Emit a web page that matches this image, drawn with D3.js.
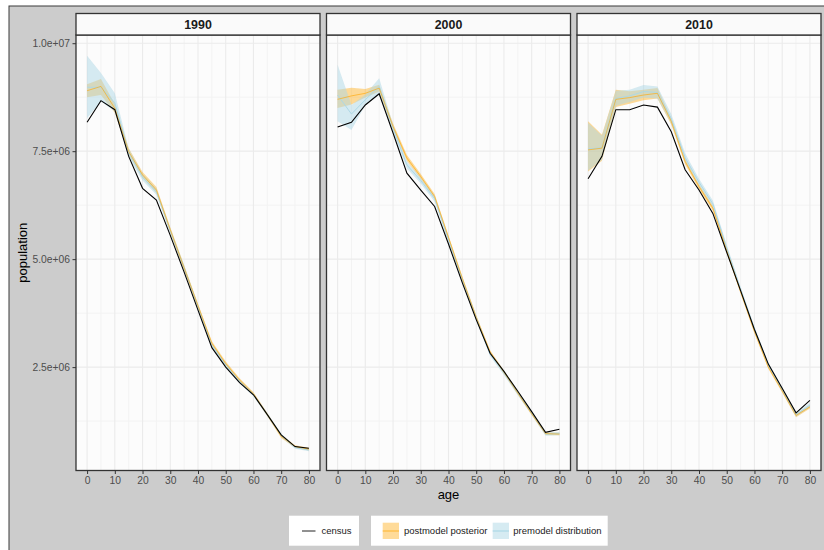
<!DOCTYPE html>
<html>
<head>
<meta charset="utf-8">
<script src="https://cdn.jsdelivr.net/npm/d3@7"></script>
<style>
  body { margin: 0; background: #ffffff; }
  svg { display: block; font-family: "Liberation Sans", Arial, Helvetica, sans-serif; }
</style>
</head>
<body>
<svg id="chart" width="824" height="550"></svg>
<script>
// ---- data (population by 5-year age group) ----
const ages = [0, 5, 10, 15, 20, 25, 30, 35, 40, 45, 50, 55, 60, 65, 70, 75, 80];
const years = ["1990", "2000", "2010"];

const census1990 = [8.17e6, 8.67e6, 8.46e6, 7.38e6, 6.64e6, 6.37e6, 5.55e6, 4.70e6, 3.82e6, 2.95e6, 2.50e6, 2.14e6, 1.86e6, 1.40e6, 0.93e6, 0.66e6, 0.62e6];
const postMean1990 = [8.90e6, 9.00e6, 8.49e6, 7.49e6, 6.95e6, 6.60e6, 5.68e6, 4.80e6, 3.92e6, 3.05e6, 2.58e6, 2.20e6, 1.88e6, 1.40e6, 0.90e6, 0.66e6, 0.60e6];
const postLo1990 = [8.75e6, 8.80e6, 8.39e6, 7.41e6, 6.88e6, 6.53e6, 5.62e6, 4.74e6, 3.87e6, 3.00e6, 2.53e6, 2.16e6, 1.84e6, 1.36e6, 0.86e6, 0.63e6, 0.57e6];
const postHi1990 = [9.05e6, 9.17e6, 8.59e6, 7.57e6, 7.02e6, 6.67e6, 5.74e6, 4.86e6, 3.97e6, 3.10e6, 2.63e6, 2.24e6, 1.92e6, 1.44e6, 0.94e6, 0.69e6, 0.63e6];
const preMean1990 = [8.98e6, 8.98e6, 8.62e6, 7.46e6, 6.90e6, 6.56e6, 5.66e6, 4.80e6, 3.90e6, 3.01e6, 2.55e6, 2.17e6, 1.86e6, 1.40e6, 0.92e6, 0.64e6, 0.58e6];
const preLo1990 = [8.26e6, 8.65e6, 8.42e6, 7.36e6, 6.82e6, 6.49e6, 5.60e6, 4.74e6, 3.85e6, 2.96e6, 2.51e6, 2.13e6, 1.82e6, 1.36e6, 0.88e6, 0.61e6, 0.55e6];
const preHi1990 = [9.71e6, 9.31e6, 8.84e6, 7.56e6, 6.98e6, 6.63e6, 5.72e6, 4.86e6, 3.95e6, 3.06e6, 2.59e6, 2.21e6, 1.90e6, 1.44e6, 0.96e6, 0.67e6, 0.61e6];

const census2000 = [8.06e6, 8.17e6, 8.57e6, 8.83e6, 7.92e6, 6.99e6, 6.60e6, 6.22e6, 5.35e6, 4.45e6, 3.60e6, 2.82e6, 2.40e6, 1.94e6, 1.47e6, 0.99e6, 1.06e6];
const postMean2000 = [8.70e6, 8.78e6, 8.84e6, 8.96e6, 8.07e6, 7.34e6, 6.91e6, 6.45e6, 5.50e6, 4.55e6, 3.65e6, 2.85e6, 2.38e6, 1.90e6, 1.42e6, 0.96e6, 0.95e6];
const postLo2000 = [8.50e6, 8.58e6, 8.74e6, 8.88e6, 8.00e6, 7.27e6, 6.85e6, 6.39e6, 5.45e6, 4.50e6, 3.60e6, 2.81e6, 2.34e6, 1.86e6, 1.39e6, 0.93e6, 0.92e6];
const postHi2000 = [8.92e6, 8.97e6, 8.94e6, 9.04e6, 8.14e6, 7.41e6, 6.97e6, 6.51e6, 5.55e6, 4.60e6, 3.70e6, 2.89e6, 2.42e6, 1.94e6, 1.45e6, 0.99e6, 0.98e6];
const preMean2000 = [8.80e6, 8.36e6, 8.69e6, 9.00e6, 8.03e6, 7.18e6, 6.82e6, 6.40e6, 5.45e6, 4.52e6, 3.64e6, 2.80e6, 2.37e6, 1.90e6, 1.44e6, 0.95e6, 0.96e6];
const preLo2000 = [8.19e6, 7.99e6, 8.57e6, 8.80e6, 7.94e6, 7.10e6, 6.75e6, 6.33e6, 5.39e6, 4.46e6, 3.58e6, 2.75e6, 2.32e6, 1.85e6, 1.39e6, 0.91e6, 0.92e6];
const preHi2000 = [9.50e6, 8.57e6, 8.81e6, 9.19e6, 8.12e6, 7.26e6, 6.89e6, 6.47e6, 5.51e6, 4.58e6, 3.70e6, 2.85e6, 2.42e6, 1.95e6, 1.49e6, 0.99e6, 1.00e6];

const census2010 = [6.86e6, 7.38e6, 8.46e6, 8.46e6, 8.57e6, 8.52e6, 7.95e6, 7.07e6, 6.60e6, 6.06e6, 5.16e6, 4.27e6, 3.37e6, 2.57e6, 2.01e6, 1.44e6, 1.73e6];
const postMean2010 = [7.53e6, 7.57e6, 8.70e6, 8.74e6, 8.80e6, 8.84e6, 8.19e6, 7.26e6, 6.68e6, 6.18e6, 5.20e6, 4.25e6, 3.33e6, 2.50e6, 1.95e6, 1.38e6, 1.58e6];
const postLo2010 = [7.03e6, 7.28e6, 8.52e6, 8.60e6, 8.68e6, 8.72e6, 8.11e6, 7.19e6, 6.62e6, 6.12e6, 5.15e6, 4.20e6, 3.28e6, 2.46e6, 1.91e6, 1.34e6, 1.54e6];
const postHi2010 = [8.19e6, 7.88e6, 8.92e6, 8.89e6, 8.92e6, 8.96e6, 8.27e6, 7.33e6, 6.74e6, 6.24e6, 5.25e6, 4.30e6, 3.38e6, 2.54e6, 1.99e6, 1.42e6, 1.62e6];
const preMean2010 = [7.55e6, 7.58e6, 8.72e6, 8.78e6, 8.88e6, 8.86e6, 8.25e6, 7.35e6, 6.78e6, 6.28e6, 5.26e6, 4.30e6, 3.38e6, 2.55e6, 1.98e6, 1.40e6, 1.62e6];
const preLo2010 = [7.05e6, 7.30e6, 8.55e6, 8.64e6, 8.74e6, 8.72e6, 8.14e6, 7.26e6, 6.70e6, 6.20e6, 5.19e6, 4.24e6, 3.32e6, 2.50e6, 1.93e6, 1.35e6, 1.57e6];
const preHi2010 = [8.16e6, 7.86e6, 8.90e6, 8.92e6, 9.03e6, 9.00e6, 8.36e6, 7.45e6, 6.86e6, 6.36e6, 5.33e6, 4.36e6, 3.44e6, 2.60e6, 2.03e6, 1.45e6, 1.67e6];

const xTicks = [0, 10, 20, 30, 40, 50, 60, 70, 80];
const xMinor = [5, 15, 25, 35, 45, 55, 65, 75];
const yTicks = [2.5e6, 5.0e6, 7.5e6, 1.0e7];
const yMinor = [1.25e6, 3.75e6, 6.25e6, 8.75e6];
const legendLabels = ["census", "postmodel posterior", "premodel distribution"];

const panelsData = [
  { year: "1990", census: census1990, postMean: postMean1990, postLo: postLo1990, postHi: postHi1990, preMean: preMean1990, preLo: preLo1990, preHi: preHi1990 },
  { year: "2000", census: census2000, postMean: postMean2000, postLo: postLo2000, postHi: postHi2000, preMean: preMean2000, preLo: preLo2000, preHi: preHi2000 },
  { year: "2010", census: census2010, postMean: postMean2010, postLo: postLo2010, postHi: postHi2010, preMean: preMean2010, preLo: preLo2010, preHi: preHi2010 }
];

// ---- layout ----
const svg = d3.select("#chart");
const W = 824, H = 550;
const panelLefts = [76, 326.5, 577];
const panelW = 244;
const panelTop = 35, panelBottom = 470.5, stripTop = 13.5;

const colors = {
  outer: "#cccccc",
  panelBg: "#fcfcfc",
  gridMajor: "#ebebeb",
  gridMinor: "#f3f3f3",
  border: "#333333",
  tickText: "#4d4d4d",
  post: "#ffa500",
  pre: "#add8e6"
};

// outer plot background with frame
svg.append("rect").attr("x", 9).attr("y", 6).attr("width", W - 8).attr("height", H - 5)
  .attr("fill", colors.outer).attr("stroke", "#3a3a3a").attr("stroke-width", 1);

const y = d3.scaleLinear().domain([0.106e6, 10.19e6]).range([panelBottom, panelTop]);

function sci(v) {
  const parts = v.toExponential(1).split("e");
  const e = parts[1];
  return parts[0] + "e" + e[0] + e.slice(1).padStart(2, "0");
}

const area = (xs, lo, hi) => d3.area()
  .x((d, i) => xs(ages[i]))
  .y0((d, i) => y(lo[i]))
  .y1((d, i) => y(hi[i]));
const line = (xs, vals) => d3.line()
  .x((d, i) => xs(ages[i]))
  .y((d, i) => y(vals[i]));

panelsData.forEach((p, k) => {
  const left = panelLefts[k];
  const x = d3.scaleLinear().domain([-4, 84]).range([left, left + panelW]);
  const g = svg.append("g");

  // panel background
  g.append("rect").attr("x", left).attr("y", panelTop).attr("width", panelW)
    .attr("height", panelBottom - panelTop).attr("fill", colors.panelBg);

  // grid
  g.selectAll(".gxm").data(xMinor).join("line")
    .attr("x1", d => x(d)).attr("x2", d => x(d)).attr("y1", panelTop).attr("y2", panelBottom)
    .attr("stroke", colors.gridMinor).attr("stroke-width", 1);
  g.selectAll(".gym").data(yMinor).join("line")
    .attr("y1", d => y(d)).attr("y2", d => y(d)).attr("x1", left).attr("x2", left + panelW)
    .attr("stroke", colors.gridMinor).attr("stroke-width", 1);
  g.selectAll(".gx").data(xTicks).join("line")
    .attr("x1", d => x(d)).attr("x2", d => x(d)).attr("y1", panelTop).attr("y2", panelBottom)
    .attr("stroke", colors.gridMajor).attr("stroke-width", 1.1);
  g.selectAll(".gy").data(yTicks).join("line")
    .attr("y1", d => y(d)).attr("y2", d => y(d)).attr("x1", left).attr("x2", left + panelW)
    .attr("stroke", colors.gridMajor).attr("stroke-width", 1.1);

  // bands: posterior first, premodel distribution over it
  g.append("path").attr("d", area(x, p.postLo, p.postHi)(ages))
    .attr("fill", colors.post).attr("fill-opacity", 0.4);
  g.append("path").attr("d", area(x, p.preLo, p.preHi)(ages))
    .attr("fill", colors.pre).attr("fill-opacity", 0.5);

  // lines
  g.append("path").attr("d", line(x, p.preMean)(ages))
    .attr("fill", "none").attr("stroke", colors.pre).attr("stroke-width", 1);
  g.append("path").attr("d", line(x, p.postMean)(ages))
    .attr("fill", "none").attr("stroke", colors.post).attr("stroke-opacity", 0.6).attr("stroke-width", 1);
  g.append("path").attr("d", line(x, p.census)(ages))
    .attr("fill", "none").attr("stroke", "#000000").attr("stroke-width", 1.1);

  // panel border
  g.append("rect").attr("x", left).attr("y", panelTop).attr("width", panelW)
    .attr("height", panelBottom - panelTop).attr("fill", "none")
    .attr("stroke", colors.border).attr("stroke-width", 1.3);

  // strip
  g.append("rect").attr("x", left).attr("y", stripTop).attr("width", panelW)
    .attr("height", panelTop - stripTop).attr("fill", "#fafafa")
    .attr("stroke", colors.border).attr("stroke-width", 1.3);
  g.append("text").attr("x", left + panelW / 2).attr("y", (stripTop + panelTop) / 2 + 4.3)
    .attr("text-anchor", "middle").attr("font-size", 12.4).attr("font-weight", "bold")
    .attr("fill", "#1a1a1a").text(p.year);

  // x axis
  const xa = g.append("g").attr("transform", `translate(0,${panelBottom})`)
    .call(d3.axisBottom(x).tickValues(xTicks).tickSize(3.5).tickPadding(2.5).tickFormat(d3.format("d")));
  xa.select(".domain").remove();
  xa.selectAll(".tick line").attr("stroke", colors.border);
  xa.selectAll("text").attr("fill", colors.tickText).attr("font-size", 10.3)
    .attr("font-family", '"Liberation Sans", Arial, sans-serif');

  // y axis only on the first panel
  if (k === 0) {
    const ya = g.append("g").attr("transform", `translate(${left},0)`)
      .call(d3.axisLeft(y).tickValues(yTicks).tickSize(3.5).tickPadding(2.5).tickFormat(sci));
    ya.select(".domain").remove();
    ya.selectAll(".tick line").attr("stroke", colors.border);
    ya.selectAll("text").attr("fill", colors.tickText).attr("font-size", 10.3)
      .attr("font-family", '"Liberation Sans", Arial, sans-serif');
  }
});

// axis titles
svg.append("text").attr("x", (panelLefts[0] + panelLefts[2] + panelW) / 2).attr("y", 498.5)
  .attr("text-anchor", "middle").attr("font-size", 13).attr("fill", "#000").text("age");
svg.append("text").attr("transform", `translate(27,${(panelTop + panelBottom) / 2}) rotate(-90)`)
  .attr("text-anchor", "middle").attr("font-size", 13).attr("fill", "#000").text("population");

// legend
const lg = svg.append("g");
lg.append("rect").attr("x", 289).attr("y", 515.7).attr("width", 70).attr("height", 30).attr("fill", "#ffffff");
lg.append("rect").attr("x", 371).attr("y", 515.7).attr("width", 236.7).attr("height", 30).attr("fill", "#ffffff");

lg.append("line").attr("x1", 302).attr("x2", 315.5).attr("y1", 531).attr("y2", 531)
  .attr("stroke", "#222").attr("stroke-width", 1);
lg.append("text").attr("x", 321.5).attr("y", 534.3).attr("font-size", 9.5).attr("fill", "#1a1a1a").text(legendLabels[0]);

lg.append("rect").attr("x", 382.7).attr("y", 522.7).attr("width", 16.3).attr("height", 16.3)
  .attr("fill", colors.post).attr("fill-opacity", 0.4);
lg.append("line").attr("x1", 382.7).attr("x2", 399).attr("y1", 531).attr("y2", 531)
  .attr("stroke", colors.post).attr("stroke-opacity", 0.6).attr("stroke-width", 1.2);
lg.append("text").attr("x", 404).attr("y", 534.3).attr("font-size", 9.5).attr("fill", "#1a1a1a").text(legendLabels[1]);

lg.append("rect").attr("x", 492.7).attr("y", 522.7).attr("width", 16.3).attr("height", 16.3)
  .attr("fill", colors.pre).attr("fill-opacity", 0.5);
lg.append("line").attr("x1", 492.7).attr("x2", 509).attr("y1", 531).attr("y2", 531)
  .attr("stroke", colors.pre).attr("stroke-width", 1.2);
lg.append("text").attr("x", 513.3).attr("y", 534.3).attr("font-size", 9.5).attr("fill", "#1a1a1a").text(legendLabels[2]);
</script>
</body>
</html>
